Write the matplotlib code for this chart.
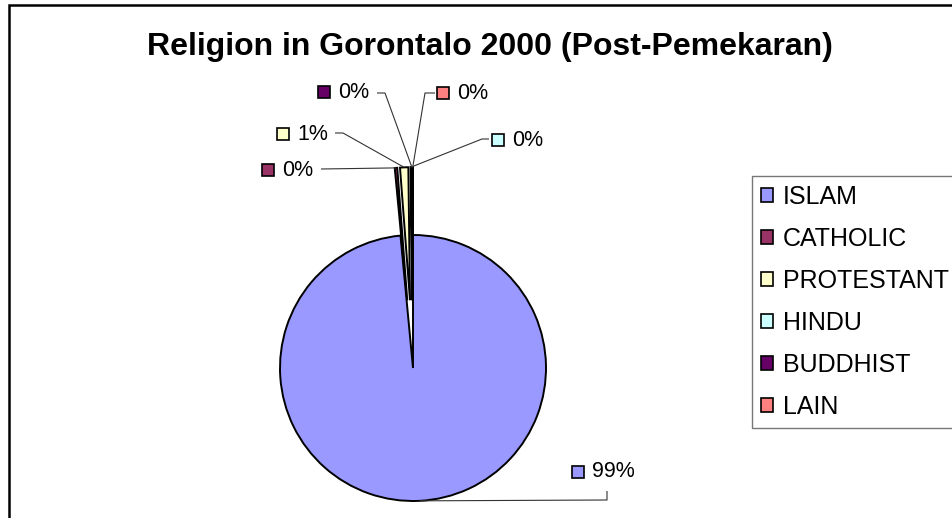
import numpy as np
import matplotlib
matplotlib.use('Agg')
import matplotlib.pyplot as plt
from matplotlib.patches import Patch, Rectangle

plt.rcParams['font.family'] = ['Liberation Sans', 'DejaVu Sans']

religions = ['ISLAM', 'CATHOLIC', 'PROTESTANT', 'HINDU', 'BUDDHIST', 'LAIN']
shares = [98.5, 0.3, 1.0, 0.06, 0.1, 0.04]
pct_labels = ['99%', '0%', '1%', '0%', '0%', '0%']
colors = ['#9999FF', '#993366', '#FFFFCC', '#CCFFFF', '#660066', '#FF8080']

W, H = 953, 518
fig = plt.figure(figsize=(W / 100, H / 100), dpi=100)
ax = fig.add_axes([0, 0, 1, 1])

def py(y):
    # pixel row (from top) -> data y
    return H - y

cx, cy, r = 413, py(368), 133
# explode is in data units when a radius is given
explode = [0] + [0.51 * r] * (len(shares) - 1)

wedges, _ = ax.pie(shares, colors=colors, startangle=90, counterclock=False,
                   explode=explode, center=(cx, cy), radius=r, frame=True,
                   wedgeprops=dict(edgecolor='black', linewidth=1.4))

# label layout: key square center, text x, leader path (pixel coords)
label_layout = [
    ((578, 472), 592, [(607, 491), (607, 500)]),
    ((268, 170), 282, [(321, 169)]),
    ((283, 134), 297, [(335, 133), (343, 133)]),
    ((498, 140), 512, [(489, 139), (482, 139)]),
    ((324, 92), 338, [(377, 93), (385, 93)]),
    ((443, 93), 457, [(435, 93), (425, 93)]),
]

for w, col, lab, (key, tx, path) in zip(wedges, colors, pct_labels, label_layout):
    mid = np.radians((w.theta1 + w.theta2) / 2)
    ex = w.center[0] + w.r * np.cos(mid)
    ey = w.center[1] + w.r * np.sin(mid)
    xs = [p[0] for p in path] + [ex]
    ys = [py(p[1]) for p in path] + [ey]
    ax.plot(xs, ys, color='#333333', lw=0.8, solid_capstyle='butt')
    ax.plot([key[0]], [py(key[1])], marker='s', ms=8, mfc=col, mec='black', mew=1.2)
    ax.text(tx, py(key[1]), lab, fontsize=15.5, va='center', ha='left')

ax.text(490, py(47), 'Religion in Gorontalo 2000 (Post-Pemekaran)',
        fontsize=23, fontweight='bold', ha='center', va='center')

# chart area border
ax.add_patch(Rectangle((9, -20), W + 20, py(5) + 20, fill=False,
                       edgecolor='black', lw=1.8))

ax.set_xlim(0, W)
ax.set_ylim(0, H)
ax.set_aspect('equal')
ax.axis('off')

handles = [Patch(facecolor=c, edgecolor='black', lw=1.2) for c in colors]
leg = fig.legend(handles, religions, loc='upper left',
                 bbox_to_anchor=(752 / W, 1 - 176 / H), fontsize=18,
                 handlelength=0.48, handleheight=0.48, handletextpad=0.4,
                 labelspacing=0.72, borderpad=0.36, borderaxespad=0,
                 fancybox=False, framealpha=1)
leg.get_frame().set_edgecolor('#777777')
leg.get_frame().set_linewidth(1.0)

fig.savefig('out.png', dpi=100)
